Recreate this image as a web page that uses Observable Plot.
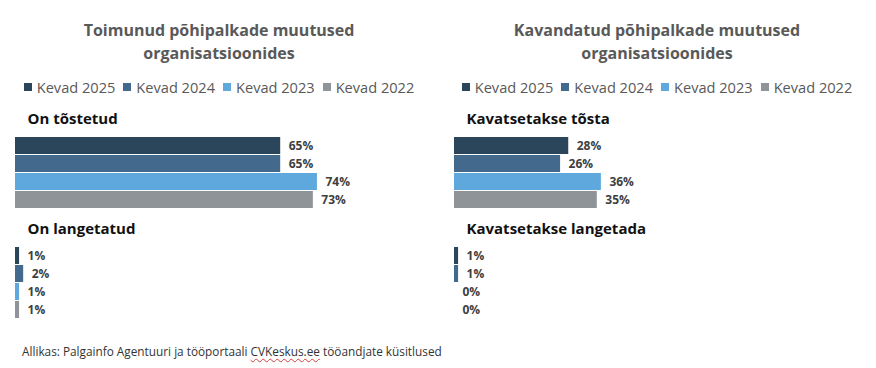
<!DOCTYPE html>
<html>
<head>
<meta charset="utf-8">
<script src="https://cdn.jsdelivr.net/npm/d3@7"></script>
<script src="https://cdn.jsdelivr.net/npm/@observablehq/plot@0.6"></script>
<style>
  html, body { margin: 0; padding: 0; background: #fff; }
  body { font-family: "Open Sans", "Noto Sans", sans-serif; }
  #wrap { position: relative; width: 876px; height: 368px; overflow: hidden; }
  .col { position: absolute; top: 0; width: 438px; }
  .title { position: absolute; top: 19px; left: 0; width: 438px; text-align: center;
           font-weight: 700; font-size: 16px; line-height: 22.6px; color: #595959; }
  .legend { position: absolute; top: 77px; left: 0; width: 438px; height: 20px;
            display: flex; justify-content: center; align-items: center;
            font-size: 14.6px; color: #595959; white-space: nowrap; }
  .legend .item { display: flex; align-items: center; margin: 0 4px; }
  .legend .sw { width: 8px; height: 8px; margin-right: 5px; }
  .chart { position: absolute; top: 100px; left: 0; }
  .foot { position: absolute; left: 22px; top: 343px; font-size: 11.8px; color: #333; white-space: nowrap; }
  .foot .sp { text-decoration: underline wavy #d04040; text-decoration-thickness: 1px; text-underline-offset: 2px; }
</style>
</head>
<body>
<div id="wrap">
  <div class="col" id="left">
    <div class="title"></div>
    <div class="legend"></div>
    <div class="chart"></div>
  </div>
  <div class="col" id="right" style="left:438px">
    <div class="title"></div>
    <div class="legend"></div>
    <div class="chart"></div>
  </div>
  <div class="foot">Allikas: Palgainfo Agentuuri ja tööportaali <span class="sp">CVKeskus.ee</span> tööandjate küsitlused</div>
</div>
<script>
// ---- data ----
const series = ["Kevad 2025", "Kevad 2024", "Kevad 2023", "Kevad 2022"];
const seriesColors = ["#2b465a", "#43698c", "#5ea8dd", "#8f9499"];

const leftTitle = ["Toimunud põhipalkade muutused", "organisatsioonides"];
const leftGroups = ["On tõstetud", "On langetatud"];
const leftRaised = [65, 65, 74, 73];
const leftLowered = [1, 2, 1, 1];

const rightTitle = ["Kavandatud põhipalkade muutused", "organisatsioonides"];
const rightGroups = ["Kavatsetakse tõsta", "Kavatsetakse langetada"];
const rightRaised = [28, 26, 36, 35];
const rightLowered = [1, 1, 0, 0];

function buildPanel(el, title, groups, valuesA, valuesB, marginLeft, marginRight) {
  el.querySelector(".title").innerHTML = title.join("<br>");
  const leg = el.querySelector(".legend");
  series.forEach((s, i) => {
    const it = document.createElement("div");
    it.className = "item";
    it.innerHTML = `<span class="sw" style="background:${seriesColors[i]}"></span><span>${s}</span>`;
    leg.appendChild(it);
  });

  const rows = [];
  series.forEach((s, i) => rows.push({group: groups[0], series: s, value: valuesA[i]}));
  series.forEach((s, i) => rows.push({group: groups[1], series: s, value: valuesB[i]}));

  const plot = Plot.plot({
    width: 438,
    height: 225,
    marginTop: 34,
    marginBottom: 4,
    marginLeft,
    marginRight,
    style: {fontFamily: "'Open Sans', 'Noto Sans', sans-serif", background: "transparent"},
    x: {domain: [0, 100], axis: null},
    y: {domain: series, paddingInner: 0.05, paddingOuter: 0, axis: null},
    fy: {domain: groups, paddingInner: 0.315, paddingOuter: 0, axis: null},
    color: {domain: series, range: seriesColors},
    marks: [
      Plot.barX(rows, {fy: "group", y: "series", x: "value", fill: "series"}),
      Plot.text(rows, {
        fy: "group", y: "series", x: "value",
        text: d => d.value + "%",
        dx: 8, textAnchor: "start",
        fontWeight: "bold", fontSize: 12, fill: "#404040"
      }),
      Plot.text(groups, {
        fy: d => d, text: d => d,
        frameAnchor: "top-left", textAnchor: "start", lineAnchor: "middle",
        dx: 12, dy: -16.5,
        fontWeight: "bold", fontSize: 15, fill: "#111"
      })
    ]
  });
  el.querySelector(".chart").appendChild(plot);
}

buildPanel(document.getElementById("left"), leftTitle, leftGroups, leftRaised, leftLowered, 15, 15);
buildPanel(document.getElementById("right"), rightTitle, rightGroups, rightRaised, rightLowered, 16, 14);
</script>
</body>
</html>
